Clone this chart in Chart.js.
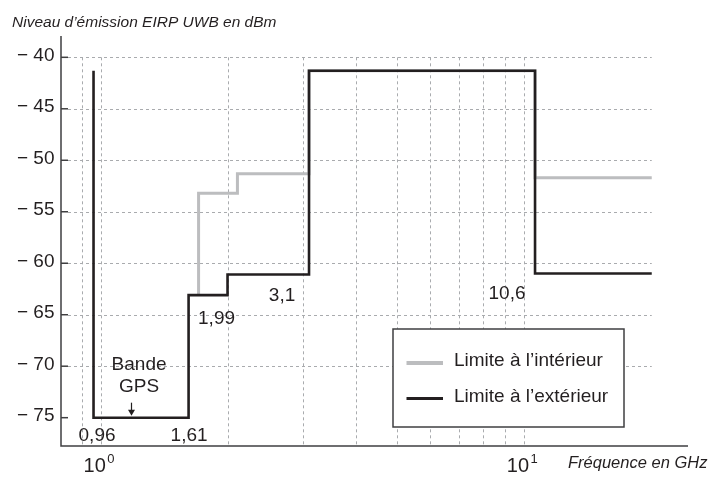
<!DOCTYPE html>
<html lang="fr">
<head>
<meta charset="utf-8">
<title>Niveau d’émission EIRP UWB</title>
<script src="https://cdn.jsdelivr.net/npm/chart.js@4/dist/chart.umd.min.js"></script>
<style>
  html, body { margin: 0; padding: 0; background: #ffffff; }
  #wrap { width: 715px; height: 477px; }
</style>
</head>
<body>
<div id="wrap"><canvas id="uwb" width="715" height="477"></canvas></div>
<script>
// Masque d'émission UWB : fréquence (GHz) et niveau EIRP (dBm)
const outdoorFreq  = [0.96, 0.96, 1.61, 1.61, 1.99, 1.99, 3.1, 3.1, 10.6, 10.6, 20];
const outdoorLevel = [-41.3, -75.0, -75.0, -63.1, -63.1, -61.1, -61.1, -41.3, -41.3, -61.0, -61.0];
const indoorFreq   = [1.7, 1.7, 2.1, 2.1, 3.1, 3.1, 10.6, 10.6, 20];
const indoorLevel  = [-63.1, -53.2, -53.2, -51.3, -51.3, -41.3, -41.3, -51.7, -51.7];

const seriesNames = ['Limite à l’intérieur', 'Limite à l’extérieur'];

// Graduations
const yTickValues = [-40, -45, -50, -55, -60, -65, -70, -75];
const yTickLabels = ['− 40', '− 45', '− 50', '− 55', '− 60', '− 65', '− 70', '− 75'];
const yGridValues = [-40, -45, -50, -55, -60, -65, -70];
const xGridValues = [0.9, 1, 2, 3, 4, 5, 6, 7, 8, 9, 10];
const xGridEnd = 20;
const xTickValues = [1, 10];
const xTickBase = ['10', '10'];
const xTickExp = ['0', '1'];

// Repères de fréquence annotés sur la courbe extérieure
const markerLabels = ['0,96', '1,61', '1,99', '3,1', '10,6'];
const markerFreq   = [0.96, 1.61, 1.99, 3.1, 10.6];
const markerLevel  = [-75.0, -75.0, -63.1, -61.1, -61.0];
const markerShift  = [[3.5, 18], [0.5, 18], [-11, 24], [-27, 21], [-28, 20]];

const gpsLines = ['Bande', 'GPS'];
const gpsFreq = 1.23;
const gpsArrowFreq = 1.18;
const gpsArrowLevel = -75.0;

const yTitle = 'Niveau d’émission EIRP UWB en dBm';
const xTitle = 'Fréquence en GHz';

const INK = '#231f20';
const AXIS = '#3f3f41';
const GRID = '#a9abae';
const LIGHT = '#bcbdbf';
const FONT = '"Liberation Sans", Arial, Helvetica, sans-serif';

function points(xs, ys) {
  return xs.map((x, i) => ({ x: x, y: ys[i] }));
}

const framePlugin = {
  id: 'frame',
  beforeDatasetsDraw(chart) {
    const ctx = chart.ctx;
    const xs = chart.scales.x, ys = chart.scales.y;
    const area = chart.chartArea;
    ctx.save();
    ctx.strokeStyle = GRID;
    ctx.lineWidth = 1;
    ctx.setLineDash([3, 3]);
    const gx0 = area.left + 7;
    const gx1 = xs.getPixelForValue(xGridEnd);
    yGridValues.forEach(v => {
      const y = Math.round(ys.getPixelForValue(v)) + 0.5;
      ctx.beginPath();
      ctx.moveTo(gx0, y);
      ctx.lineTo(gx1, y);
      ctx.stroke();
    });
    const gyTop = ys.getPixelForValue(yGridValues[0]);
    xGridValues.forEach(v => {
      const x = Math.round(xs.getPixelForValue(v)) + 0.5;
      ctx.beginPath();
      ctx.moveTo(x, gyTop);
      ctx.lineTo(x, area.bottom);
      ctx.stroke();
    });
    ctx.restore();
  },
  afterDatasetsDraw(chart) {
    const ctx = chart.ctx;
    const xs = chart.scales.x, ys = chart.scales.y;
    const area = chart.chartArea;
    ctx.save();

    // Axes
    ctx.strokeStyle = AXIS;
    ctx.lineWidth = 1.5;
    ctx.setLineDash([]);
    ctx.beginPath();
    ctx.moveTo(area.left, area.top);
    ctx.lineTo(area.left, area.bottom);
    ctx.lineTo(area.right, area.bottom);
    ctx.stroke();

    // Graduations de l'axe vertical
    ctx.fillStyle = INK;
    ctx.font = '19px ' + FONT;
    ctx.textAlign = 'right';
    ctx.textBaseline = 'alphabetic';
    yTickValues.forEach((v, i) => {
      const y = ys.getPixelForValue(v);
      ctx.beginPath();
      ctx.moveTo(area.left, y);
      ctx.lineTo(area.left + 7, y);
      ctx.stroke();
      ctx.fillText(yTickLabels[i], area.left - 6.5, y + 3.5);
    });

    // Graduations de l'axe horizontal (puissances de dix)
    xTickValues.forEach((v, i) => {
      const x = xs.getPixelForValue(v);
      ctx.font = '20px ' + FONT;
      const wb = ctx.measureText(xTickBase[i]).width;
      ctx.font = '13px ' + FONT;
      const we = ctx.measureText(xTickExp[i]).width;
      const left = x - 2 - (wb + 1.5 + we) / 2;
      ctx.textAlign = 'left';
      ctx.font = '20px ' + FONT;
      ctx.fillText(xTickBase[i], left, area.bottom + 26);
      ctx.font = '13px ' + FONT;
      ctx.fillText(xTickExp[i], left + wb + 1.5, area.bottom + 17);
    });

    // Titres des axes
    ctx.font = 'italic 15.5px ' + FONT;
    ctx.textAlign = 'left';
    ctx.fillText(yTitle, 12, area.top - 9);
    ctx.font = 'italic 16.5px ' + FONT;
    ctx.fillText(xTitle, 568, area.bottom + 22);

    // Repères de fréquence
    ctx.font = '19px ' + FONT;
    ctx.textAlign = 'center';
    ctx.textBaseline = 'middle';
    markerLabels.forEach((t, i) => {
      const x = xs.getPixelForValue(markerFreq[i]) + markerShift[i][0];
      const y = ys.getPixelForValue(markerLevel[i]) + markerShift[i][1];
      ctx.fillText(t, x, y);
    });

    // Bande GPS avec sa flèche
    const gx = xs.getPixelForValue(gpsFreq);
    const gy = ys.getPixelForValue(gpsArrowLevel);
    ctx.fillText(gpsLines[0], gx, gy - 53);
    ctx.fillText(gpsLines[1], gx, gy - 31);
    const ax = Math.round(xs.getPixelForValue(gpsArrowFreq)) + 0.5;
    ctx.strokeStyle = INK;
    ctx.lineWidth = 1.2;
    ctx.beginPath();
    ctx.moveTo(ax, gy - 15);
    ctx.lineTo(ax, gy - 6);
    ctx.stroke();
    ctx.beginPath();
    ctx.moveTo(ax - 3.5, gy - 8);
    ctx.lineTo(ax + 3.5, gy - 8);
    ctx.lineTo(ax, gy - 2);
    ctx.closePath();
    ctx.fill();

    // Légende
    const lx = area.left + 332, ly = area.top + 293, lw = 231, lh = 98;
    ctx.fillStyle = '#ffffff';
    ctx.fillRect(lx, ly, lw, lh);
    ctx.strokeStyle = AXIS;
    ctx.lineWidth = 1.5;
    ctx.strokeRect(lx, ly, lw, lh);
    const swatches = [
      { color: LIGHT, width: 4, dy: 34 },
      { color: INK, width: 3, dy: 69.5 }
    ];
    ctx.textAlign = 'left';
    ctx.textBaseline = 'middle';
    ctx.font = '19px ' + FONT;
    swatches.forEach((s, i) => {
      ctx.strokeStyle = s.color;
      ctx.lineWidth = s.width;
      ctx.beginPath();
      ctx.moveTo(lx + 13.5, ly + s.dy);
      ctx.lineTo(lx + 50, ly + s.dy);
      ctx.stroke();
      ctx.fillStyle = INK;
      ctx.fillText(seriesNames[i], lx + 61, ly + s.dy - 2);
    });

    ctx.restore();
  }
};

new Chart(document.getElementById('uwb'), {
  type: 'line',
  data: {
    datasets: [
      {
        label: seriesNames[0],
        data: points(indoorFreq, indoorLevel),
        borderColor: LIGHT,
        borderWidth: 3,
        pointRadius: 0,
        tension: 0,
        fill: false,
        order: 2,
        borderJoinStyle: 'miter',
        borderCapStyle: 'butt'
      },
      {
        label: seriesNames[1],
        data: points(outdoorFreq, outdoorLevel),
        borderColor: INK,
        borderWidth: 2.6,
        pointRadius: 0,
        tension: 0,
        fill: false,
        order: 1,
        borderJoinStyle: 'miter',
        borderCapStyle: 'butt'
      }
    ]
  },
  options: {
    responsive: false,
    animation: false,
    events: [],
    layout: { padding: { left: 61, right: 27, top: 36, bottom: 31 } },
    scales: {
      x: { type: 'logarithmic', min: 0.8043, max: 24.36, display: false },
      y: { type: 'linear', min: -77.75, max: -37.93, display: false }
    },
    plugins: {
      legend: { display: false },
      tooltip: { enabled: false }
    }
  },
  plugins: [framePlugin]
});
</script>
</body>
</html>
